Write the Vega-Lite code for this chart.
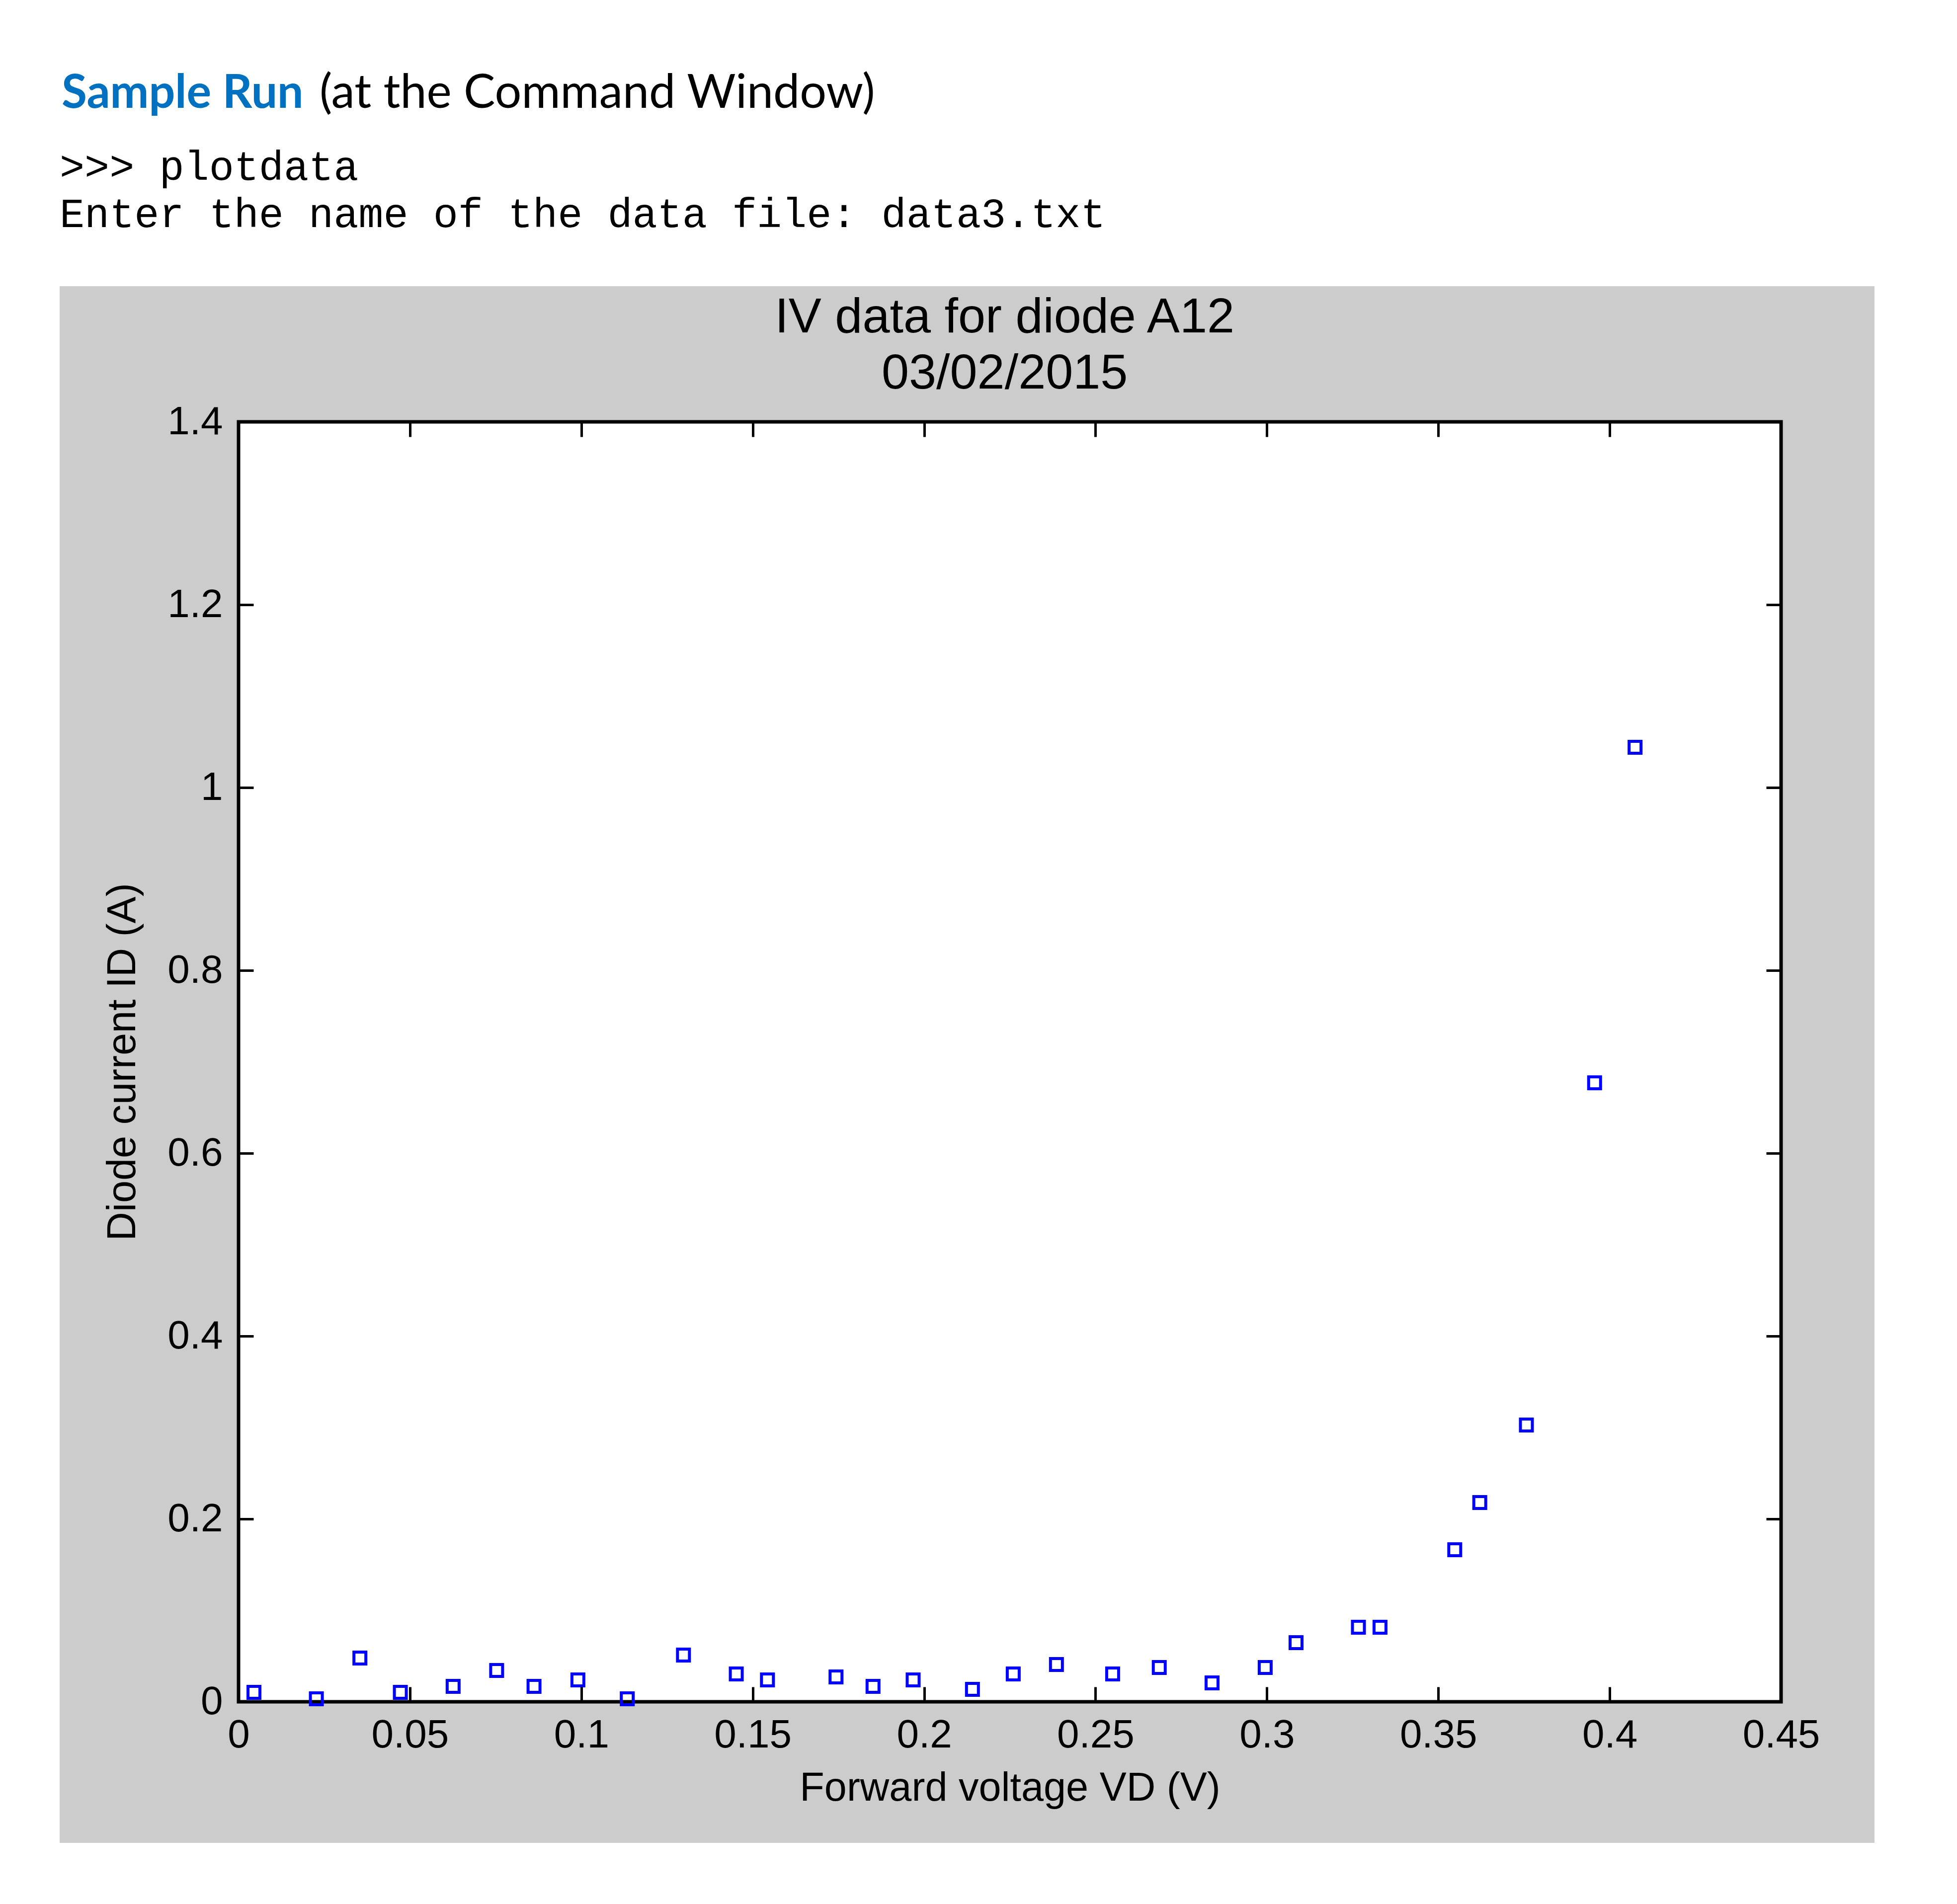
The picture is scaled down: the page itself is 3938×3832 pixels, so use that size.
{
  "$schema": "https://vega.github.io/schema/vega-lite/v6.json",
  "autosize": {"type": "none"},
  "width": 3104,
  "height": 2576,
  "padding": {"left": 480, "top": 849, "right": 354, "bottom": 407},
  "background": "white",
  "config": {
    "view": {"stroke": null},
    "axis": {
      "domain": false, "grid": false,
      "tickColor": "black", "tickWidth": 5, "tickSize": -30,
      "labelFont": "Liberation Sans", "labelFontSize": 80, "labelColor": "black",
      "titleFont": "Liberation Sans", "titleFontSize": 81, "titleFontWeight": "normal", "titleColor": "black",
      "labelFlush": false, "labelOverlap": false, "labelBound": false
    }
  },
  "data": {"values": [
    {"VD": 0.0045, "ID": 0.0103},
    {"VD": 0.0227, "ID": 0.0033},
    {"VD": 0.0354, "ID": 0.0478},
    {"VD": 0.0472, "ID": 0.0103},
    {"VD": 0.0626, "ID": 0.0168},
    {"VD": 0.0753, "ID": 0.0342},
    {"VD": 0.0862, "ID": 0.0168},
    {"VD": 0.0990, "ID": 0.0239},
    {"VD": 0.1134, "ID": 0.0033},
    {"VD": 0.1298, "ID": 0.0511},
    {"VD": 0.1452, "ID": 0.0304},
    {"VD": 0.1543, "ID": 0.0239},
    {"VD": 0.1743, "ID": 0.0272},
    {"VD": 0.1851, "ID": 0.0168},
    {"VD": 0.1968, "ID": 0.0239},
    {"VD": 0.2141, "ID": 0.0136},
    {"VD": 0.2260, "ID": 0.0304},
    {"VD": 0.2386, "ID": 0.0408},
    {"VD": 0.2550, "ID": 0.0304},
    {"VD": 0.2686, "ID": 0.0375},
    {"VD": 0.2840, "ID": 0.0207},
    {"VD": 0.2995, "ID": 0.0375},
    {"VD": 0.3085, "ID": 0.0647},
    {"VD": 0.3267, "ID": 0.0815},
    {"VD": 0.3330, "ID": 0.0815},
    {"VD": 0.3548, "ID": 0.1663},
    {"VD": 0.3621, "ID": 0.2180},
    {"VD": 0.3757, "ID": 0.3027},
    {"VD": 0.3956, "ID": 0.6770},
    {"VD": 0.4074, "ID": 1.0440}
  ]},
  "layer": [
    {
      "data": {"values": [{}]},
      "mark": {"type": "rect", "color": "#cccccc", "clip": false},
      "encoding": {
        "x": {"datum": -0.05219, "type": "quantitative", "scale": {"domain": [0, 0.45], "nice": false, "zero": false}, "axis": null},
        "x2": {"datum": 0.47724},
        "y": {"datum": 1.54837, "type": "quantitative", "scale": {"domain": [0, 1.4], "nice": false, "zero": false}, "axis": null},
        "y2": {"datum": -0.15435}
      }
    },
    {
      "data": {"values": [{}]},
      "mark": {"type": "rect", "fill": "white", "stroke": "black", "strokeWidth": 7, "clip": false},
      "encoding": {
        "x": {"datum": 0, "type": "quantitative", "scale": {"domain": [0, 0.45], "nice": false, "zero": false},
              "axis": {"orient": "top", "zindex": 2, "values": [0, 0.05, 0.1, 0.15, 0.2, 0.25, 0.3, 0.35, 0.4, 0.45], "labels": false, "title": null}},
        "x2": {"datum": 0.45},
        "y": {"datum": 0, "type": "quantitative", "scale": {"domain": [0, 1.4], "nice": false, "zero": false},
              "axis": {"orient": "right", "zindex": 2, "values": [0, 0.2, 0.4, 0.6, 0.8, 1, 1.2, 1.4], "labels": false, "title": null}},
        "y2": {"datum": 1.4}
      }
    },
    {
      "data": {"values": [{}]},
      "mark": {"type": "text", "text": "Sample Run", "font": "Lato", "fontWeight": "bold", "fontSize": 93, "color": "#0070c0", "align": "left", "baseline": "alphabetic", "clip": false},
      "encoding": {
        "x": {"datum": -0.05161, "type": "quantitative", "scale": {"domain": [0, 0.45], "nice": false, "zero": false}, "axis": null},
        "y": {"datum": 1.74348, "type": "quantitative", "scale": {"domain": [0, 1.4], "nice": false, "zero": false}, "axis": null}
      }
    },
    {
      "data": {"values": [{}]},
      "mark": {"type": "text", "text": "(at the Command Window)", "font": "Lato", "fontSize": 95, "color": "black", "align": "left", "baseline": "alphabetic", "clip": false},
      "encoding": {
        "x": {"datum": 0.02363, "type": "quantitative", "scale": {"domain": [0, 0.45], "nice": false, "zero": false}, "axis": null},
        "y": {"datum": 1.74348, "type": "quantitative", "scale": {"domain": [0, 1.4], "nice": false, "zero": false}, "axis": null}
      }
    },
    {
      "data": {"values": [{}]},
      "mark": {"type": "text", "text": ">>> plotdata", "font": "Liberation Mono", "fontSize": 83.5, "color": "black", "align": "left", "baseline": "alphabetic", "clip": false},
      "encoding": {
        "x": {"datum": -0.05219, "type": "quantitative", "scale": {"domain": [0, 0.45], "nice": false, "zero": false}, "axis": null},
        "y": {"datum": 1.66467, "type": "quantitative", "scale": {"domain": [0, 1.4], "nice": false, "zero": false}, "axis": null}
      }
    },
    {
      "data": {"values": [{}]},
      "mark": {"type": "text", "text": "Enter the name of the data file: data3.txt", "font": "Liberation Mono", "fontSize": 83.5, "color": "black", "align": "left", "baseline": "alphabetic", "clip": false},
      "encoding": {
        "x": {"datum": -0.05219, "type": "quantitative", "scale": {"domain": [0, 0.45], "nice": false, "zero": false}, "axis": null},
        "y": {"datum": 1.61304, "type": "quantitative", "scale": {"domain": [0, 1.4], "nice": false, "zero": false}, "axis": null}
      }
    },
    {
      "data": {"values": [{}]},
      "mark": {"type": "text", "text": "IV data for diode A12", "font": "Liberation Sans", "fontSize": 99, "color": "black", "align": "center", "baseline": "alphabetic", "clip": false},
      "encoding": {
        "x": {"datum": 0.2235, "type": "quantitative", "scale": {"domain": [0, 0.45], "nice": false, "zero": false}, "axis": null},
        "y": {"datum": 1.49783, "type": "quantitative", "scale": {"domain": [0, 1.4], "nice": false, "zero": false}, "axis": null}
      }
    },
    {
      "data": {"values": [{}]},
      "mark": {"type": "text", "text": "03/02/2015", "font": "Liberation Sans", "fontSize": 99, "color": "black", "align": "center", "baseline": "alphabetic", "clip": false},
      "encoding": {
        "x": {"datum": 0.2235, "type": "quantitative", "scale": {"domain": [0, 0.45], "nice": false, "zero": false}, "axis": null},
        "y": {"datum": 1.43641, "type": "quantitative", "scale": {"domain": [0, 1.4], "nice": false, "zero": false}, "axis": null}
      }
    },
    {
      "mark": {"type": "point", "shape": "square", "filled": false, "size": 576, "strokeWidth": 6, "color": "#0000ff", "opacity": 1, "clip": false},
      "encoding": {
        "x": {"field": "VD", "type": "quantitative", "scale": {"domain": [0, 0.45], "nice": false, "zero": false},
              "axis": {"orient": "bottom", "zindex": 2, "values": [0, 0.05, 0.1, 0.15, 0.2, 0.25, 0.3, 0.35, 0.4, 0.45], "format": "~g", "labelPadding": 58, "title": "Forward voltage VD (V)", "titlePadding": 27}},
        "y": {"field": "ID", "type": "quantitative", "scale": {"domain": [0, 1.4], "nice": false, "zero": false},
              "axis": {"orient": "left", "zindex": 2, "values": [0, 0.2, 0.4, 0.6, 0.8, 1, 1.2, 1.4], "format": "~g", "labelPadding": 62, "title": "Diode current ID (A)", "titlePadding": 48}}
      }
    }
  ],
  "resolve": {"axis": {"x": "independent", "y": "independent"}}
}
